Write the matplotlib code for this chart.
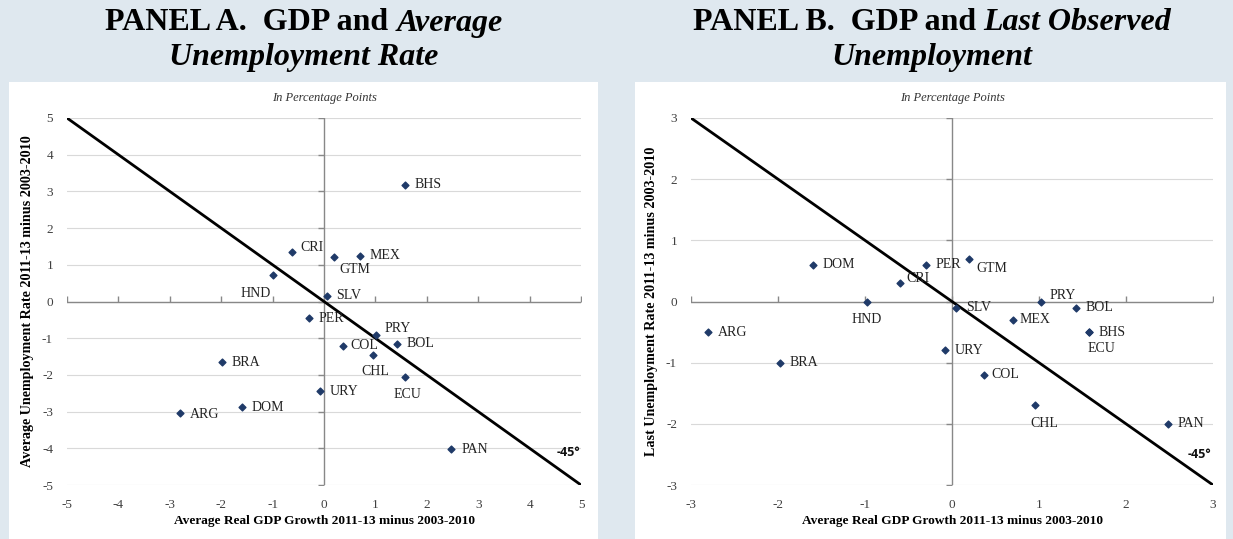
import numpy as np
import matplotlib.pyplot as plt

plt.rcParams['axes.unicode_minus'] = False

# ---- data ----
codes_a = ["BHS", "CRI", "GTM", "MEX", "HND", "SLV", "PER", "PRY", "COL",
           "BOL", "CHL", "BRA", "ECU", "URY", "DOM", "ARG", "PAN"]
gdp_a = [1.58, -0.62, 0.20, 0.70, -1.00, 0.05, -0.30, 1.02, 0.37,
         1.42, 0.95, -1.98, 1.57, -0.08, -1.60, -2.80, 2.48]
unemp_a = [3.18, 1.35, 1.20, 1.25, 0.72, 0.15, -0.45, -0.90, -1.20,
           -1.15, -1.45, -1.65, -2.07, -2.45, -2.88, -3.03, -4.03]

codes_b = ["DOM", "PER", "GTM", "CRI", "HND", "SLV", "PRY", "BOL", "MEX",
           "BHS", "ECU", "ARG", "URY", "BRA", "COL", "CHL", "PAN"]
gdp_b = [-1.60, -0.30, 0.20, -0.60, -0.98, 0.05, 1.02, 1.42, 0.70,
         1.57, 1.57, -2.80, -0.08, -1.98, 0.37, 0.95, 2.48]
unemp_b = [0.60, 0.60, 0.70, 0.30, 0.00, -0.10, 0.00, -0.10, -0.30,
           -0.50, -0.50, -0.50, -0.80, -1.00, -1.20, -1.70, -2.00]

ticks_a = list(range(-5, 6))
ticks_b = list(range(-3, 4))

# label offsets in points (dx, dy, ha)
R = (7, 0, "left")
off_a = {"BHS": R, "CRI": (6, 3, "left"), "GTM": (4, -9, "left"), "MEX": R,
         "HND": (-12, -13, "center"), "SLV": R, "PER": R, "PRY": (6, 4, "left"),
         "COL": (5, 0, "left"), "BOL": R, "CHL": (2, -12, "center"), "BRA": R,
         "ECU": (2, -12, "center"), "URY": R, "DOM": R, "ARG": (7, -1, "left"),
         "PAN": R}
off_b = {"DOM": R, "PER": R, "GTM": (5, -7, "left"), "CRI": (5, 3, "left"),
         "HND": (0, -13, "center"), "SLV": R, "PRY": (6, 4, "left"), "BOL": R,
         "MEX": (5, 0, "left"), "BHS": R, "ECU": (9, -12, "center"), "ARG": R,
         "URY": R, "BRA": R, "COL": (5, 0, "left"), "CHL": (7, -13, "center"),
         "PAN": R}

bg = "#dfe8ef"
navy = "#1f3a68"
serif = ["Liberation Serif", "DejaVu Serif"]

fig = plt.figure(figsize=(12.33, 5.39), dpi=100, facecolor=bg)
W, H = 1233, 539

# white panels
for x0, x1 in [(9, 598), (635, 1226)]:
    fig.patches.append(plt.Rectangle((x0 / W, 0), (x1 - x0) / W, 1 - 82 / H,
                                     transform=fig.transFigure,
                                     facecolor="white", edgecolor="none", zorder=-10))


def panel(rect, codes, xs, ys, ticks, offs, ylabel, tag_pos):
    ax = fig.add_axes(rect)
    ax.set_zorder(5)
    ax.set_facecolor("none")
    lim = ticks[-1]
    ax.set_xlim(-lim, lim)
    ax.set_ylim(-lim, lim)
    for s in ax.spines.values():
        s.set_visible(False)
    ax.set_xticks(ticks)
    ax.set_yticks(ticks)
    ax.tick_params(length=0, labelsize=9.5, labelcolor="#404040", pad=10)
    for lab in ax.get_xticklabels() + ax.get_yticklabels():
        lab.set_fontfamily(serif)
    for t in ticks:
        ax.axhline(t, color="#d9d9d9", lw=0.8, zorder=1)
    ax.axhline(0, color="#888888", lw=1.0, zorder=2)
    ax.axvline(0, color="#888888", lw=1.0, zorder=2)
    ax.plot(ticks, [0] * len(ticks), ls="none", marker=2, ms=4,
            color="#888888", mew=1.0, zorder=2)
    ax.plot([0] * len(ticks), ticks, ls="none", marker=0, ms=4,
            color="#888888", mew=1.0, zorder=2)
    ax.plot([-lim, lim], [lim, -lim], color="black", lw=2.0, zorder=3)
    ax.scatter(xs, ys, marker="D", s=12, color=navy, zorder=4)
    for c, x, y in zip(codes, xs, ys):
        dx, dy, ha = offs[c]
        ax.annotate(c, (x, y), xytext=(dx, dy), textcoords="offset points",
                    ha=ha, va="center", fontsize=10, family=serif,
                    color="#222222", zorder=5)
    ax.text(tag_pos[0], tag_pos[1], "-45°", fontsize=9, fontweight="bold",
            family=["Open Sans", "DejaVu Sans"], ha="center", va="center",
            color="#111111")
    ax.set_xlabel("Average Real GDP Growth 2011-13 minus 2003-2010",
                  fontsize=9.6, fontweight="bold", family=serif, labelpad=3)
    ax.set_ylabel(ylabel, fontsize=10.2, fontweight="bold", family=serif,
                  labelpad=6)
    ax.set_title("In Percentage Points", fontsize=9, style="italic",
                 family=serif, pad=12, color="#333333")
    return ax


y0 = 1 - 485 / H
hgt = (485 - 118) / H
panel([67 / W, y0, (581 - 67) / W, hgt], codes_a, gdp_a, unemp_a, ticks_a,
      off_a, "Average Unemployment Rate 2011-13 minus 2003-2010", (4.75, -4.12))
panel([691 / W, y0, (1213 - 691) / W, hgt], codes_b, gdp_b, unemp_b, ticks_b,
      off_b, "Last Unemployment Rate 2011-13 minus 2003-2010", (2.84, -2.5))

# titles (bold, with bold-italic parts)
fig.canvas.draw()
rend = fig.canvas.get_renderer()


def title_line(cx, y, parts):
    texts = []
    for s, st in parts:
        t = fig.text(0, y / H, s, fontsize=23, fontweight="bold", style=st,
                     family=serif, va="center", ha="left",
                     transform=fig.transFigure)
        texts.append(t)
    widths = [t.get_window_extent(rend).width for t in texts]
    x = cx - sum(widths) / 2
    for t, w in zip(texts, widths):
        t.set_x(x / W)
        x += w


title_line(304, H - 23, [("PANEL A.  GDP and ", "normal"), ("Average", "italic")])
title_line(304, H - 58, [("Unemployment Rate", "italic")])
title_line(932, H - 23, [("PANEL B.  GDP and ", "normal"), ("Last Observed", "italic")])
title_line(932, H - 58, [("Unemployment", "italic")])

fig.savefig("out.png", dpi=100, facecolor=bg)
